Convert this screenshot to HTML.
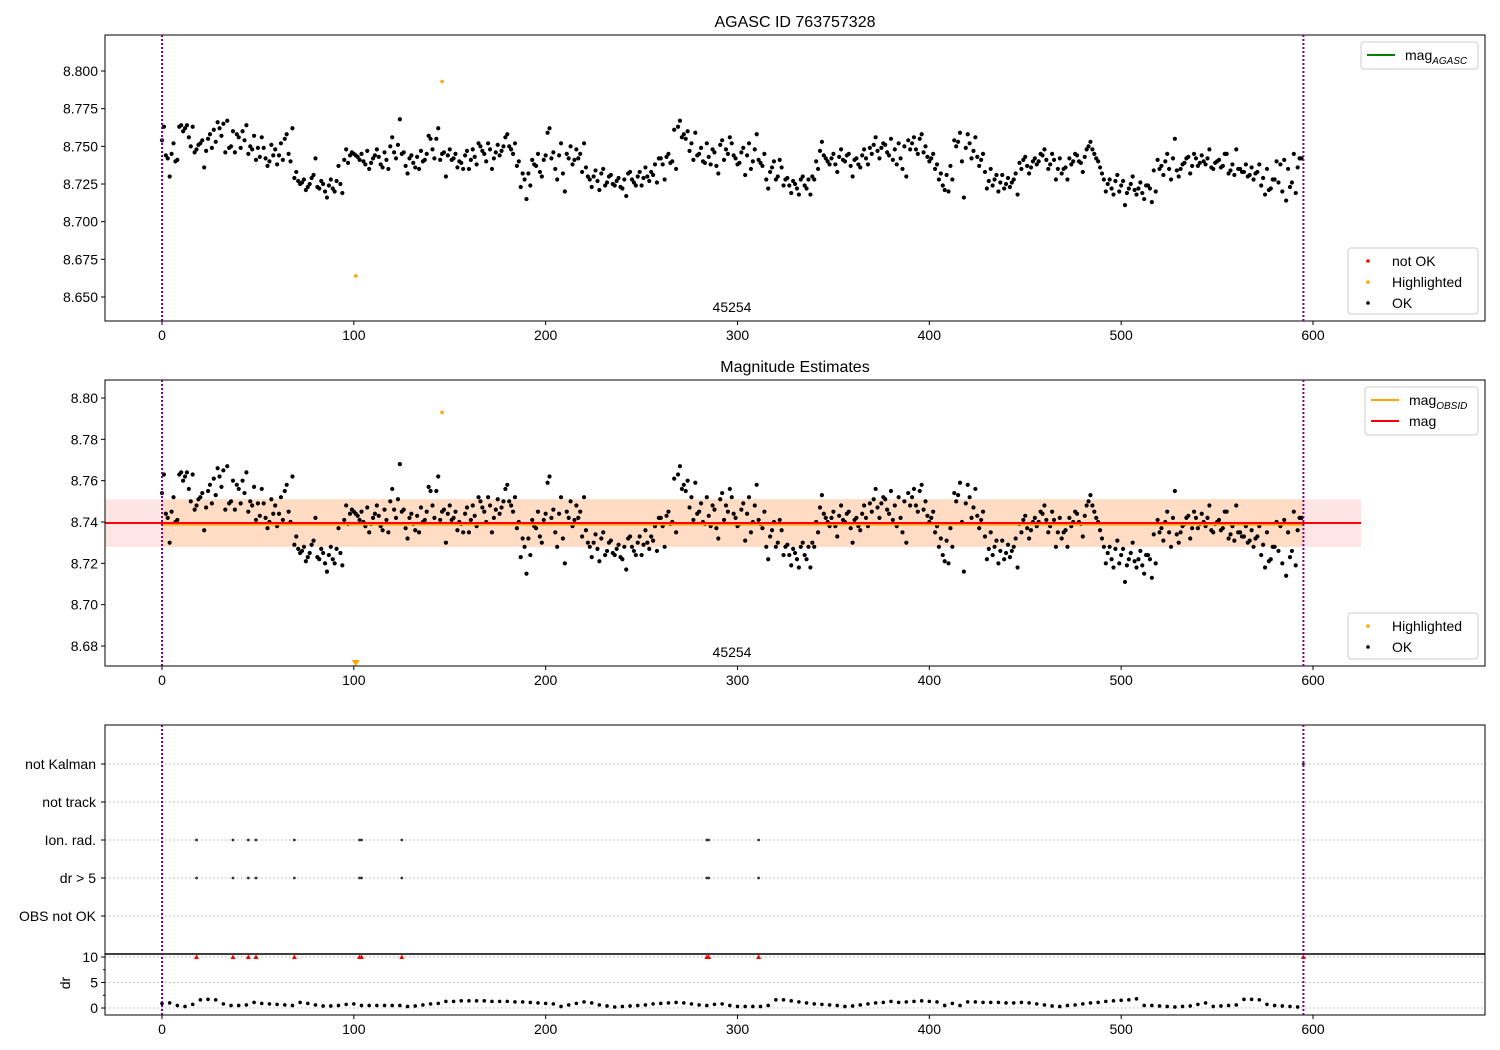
<!DOCTYPE html>
<html><head><meta charset="utf-8"><style>
body{margin:0;background:#fff}
svg{display:block;font-family:"Liberation Sans","DejaVu Sans",sans-serif}
</style></head><body>
<svg id="chart" width="1500" height="1050" viewBox="0 0 1500 1050" xmlns="http://www.w3.org/2000/svg"></svg>
<script>
// ---- data ----
const magIdx = [];
for (let i = 0; i <= 594; i += 2) magIdx.push(i);
const mags = [8.754,8.744,8.730,8.752,8.741, 8.764,8.762,8.756,8.763,8.748, 8.752,8.736,8.755,8.749,8.753,
8.762,8.765,8.767,8.750,8.746, 8.756,8.760,8.764,8.750,8.757, 8.749,8.756,8.742,8.740,8.744,
8.738,8.752,8.755,8.745,8.762, 8.733,8.725,8.728,8.723,8.729, 8.742,8.722,8.725,8.716,8.728,
8.720,8.737,8.719,8.748,8.744, 8.745,8.743,8.745,8.738,8.735, 8.742,8.748,8.738,8.746,8.735,
8.756,8.742,8.768,8.746,8.732, 8.744,8.736,8.735,8.740,8.745, 8.755,8.742,8.762,8.745,8.730,
8.748,8.742,8.736,8.739,8.744, 8.735,8.748,8.738,8.750,8.745, 8.752,8.735,8.746,8.744,8.750,
8.758,8.748,8.752,8.740,8.732, 8.715,8.724,8.738,8.745,8.730, 8.744,8.762,8.746,8.728,8.752,
8.720,8.742,8.738,8.748,8.745, 8.752,8.730,8.723,8.734,8.721, 8.735,8.726,8.731,8.724,8.729,
8.722,8.717,8.733,8.726,8.730, 8.724,8.736,8.727,8.731,8.726, 8.742,8.728,8.745,8.740,8.735,
8.767,8.758,8.760,8.752,8.759, 8.745,8.740,8.752,8.738,8.746, 8.732,8.754,8.748,8.756,8.744,
8.738,8.746,8.731,8.752,8.740, 8.758,8.739,8.745,8.722,8.736, 8.728,8.741,8.724,8.729,8.719,
8.725,8.718,8.730,8.722,8.718, 8.728,8.735,8.753,8.742,8.738, 8.745,8.733,8.748,8.740,8.745,
8.730,8.742,8.736,8.748,8.738, 8.745,8.756,8.742,8.752,8.746, 8.755,8.748,8.752,8.735,8.730,
8.748,8.756,8.745,8.758,8.750, 8.740,8.745,8.738,8.732,8.721, 8.720,8.728,8.750,8.759,8.716,
8.758,8.742,8.756,8.737,8.745, 8.722,8.735,8.728,8.720,8.731, 8.725,8.723,8.728,8.718,8.735,
8.743,8.732,8.740,8.738,8.745, 8.748,8.735,8.745,8.728,8.742, 8.735,8.728,8.738,8.745,8.740,
8.733,8.748,8.753,8.745,8.740, 8.732,8.720,8.728,8.718,8.731, 8.724,8.711,8.722,8.730,8.718,
8.726,8.715,8.724,8.713,8.720, 8.735,8.731,8.745,8.728,8.755, 8.730,8.738,8.742,8.732,8.745,
8.737,8.744,8.738,8.748,8.735, 8.740,8.736,8.745,8.732,8.738, 8.748,8.735,8.733,8.730,8.736,
8.732,8.738,8.729,8.735,8.722, 8.728,8.726,8.720,8.714,8.723, 8.745,8.736,8.742];
const magsB = [8.763,8.742,8.745,8.740,8.763, 8.760,8.764,8.750,8.746,8.751, 8.754,8.747,8.758,8.761,8.766,
8.757,8.746,8.749,8.760,8.758, 8.749,8.754,8.745,8.748,8.741, 8.743,8.749,8.737,8.751,8.748,
8.744,8.741,8.758,8.740,8.729, 8.727,8.726,8.721,8.725,8.731, 8.723,8.727,8.720,8.724,8.722,
8.727,8.725,8.741,8.739,8.746, 8.744,8.741,8.740,8.747,8.739, 8.744,8.743,8.736,8.741,8.750,
8.746,8.751,8.745,8.737,8.742, 8.739,8.743,8.747,8.741,8.757, 8.748,8.755,8.741,8.746,8.744,
8.741,8.745,8.740,8.735,8.747, 8.741,8.743,8.752,8.747,8.740, 8.748,8.742,8.751,8.747,8.756,
8.750,8.745,8.737,8.723,8.728, 8.732,8.741,8.737,8.733,8.741, 8.759,8.742,8.735,8.744,8.732,
8.745,8.750,8.741,8.742,8.733, 8.736,8.728,8.730,8.727,8.732, 8.724,8.730,8.725,8.727,8.723,
8.728,8.732,8.728,8.724,8.733, 8.729,8.730,8.733,8.738,8.742, 8.738,8.743,8.739,8.761,8.763,
8.756,8.755,8.747,8.741,8.744, 8.749,8.739,8.743,8.748,8.737, 8.751,8.741,8.745,8.752,8.742,
8.739,8.749,8.744,8.735,8.748, 8.741,8.737,8.728,8.733,8.740, 8.730,8.736,8.728,8.724,8.727,
8.722,8.728,8.724,8.728,8.730, 8.740,8.747,8.744,8.740,8.742, 8.738,8.743,8.741,8.744,8.737,
8.741,8.738,8.744,8.742,8.749, 8.751,8.747,8.749,8.751,8.744, 8.741,8.738,8.742,8.750,8.754,
8.752,8.748,8.755,8.746,8.743, 8.742,8.735,8.728,8.724,8.731, 8.737,8.754,8.753,8.740,8.749,
8.752,8.747,8.743,8.741,8.733, 8.727,8.724,8.731,8.726,8.722, 8.729,8.726,8.732,8.739,8.741,
8.737,8.736,8.742,8.740,8.744, 8.741,8.738,8.741,8.735,8.732, 8.736,8.742,8.740,8.744,8.739,
8.743,8.750,8.748,8.742,8.736, 8.728,8.725,8.722,8.727,8.720, 8.727,8.719,8.725,8.721,8.722,
8.719,8.724,8.722,8.734,8.741, 8.737,8.740,8.735,8.742,8.734, 8.735,8.739,8.743,8.737,8.742,
8.739,8.740,8.742,8.736,8.739, 8.741,8.737,8.745,8.734,8.731, 8.735,8.733,8.738,8.731,8.728,
8.733,8.724,8.718,8.721,8.728, 8.740,8.738,8.741,8.735,8.726, 8.719,8.742];
const magIdxB = [];
for (let i = 1; i <= 593 && magIdxB.length < magsB.length; i += 2) magIdxB.push(i);
const hlIdx = [101, 146];
const hlMags = [8.664, 8.793];
const drIdx = [];
for (let i = 0; i <= 592; i += 4) drIdx.push(i);
const drVals = [0.9,1.0,0.5,0.3,0.7,1.6,1.7,1.6,0.8,0.5,0.5,0.6,1.1,0.9,0.8,0.7,0.6,0.5,1.1,0.9,
0.6,0.4,0.4,0.5,0.7,0.8,0.5,0.5,0.5,0.5,0.5,0.5,0.3,0.4,0.6,0.8,0.9,1.3,1.3,1.4,
1.4,1.4,1.4,1.3,1.3,1.3,1.2,1.2,1.1,1.0,0.9,0.8,0.3,0.6,0.9,1.2,1.0,0.6,0.4,0.2,
0.3,0.4,0.5,0.6,0.8,0.9,1.0,1.1,1.0,0.8,0.6,0.5,0.7,0.8,0.5,0.3,0.3,0.3,0.3,0.5,
1.6,1.6,1.4,1.2,1.0,0.8,0.7,0.6,0.5,0.3,0.4,0.6,0.8,1.0,1.1,1.3,1.1,1.2,1.3,1.4,
1.3,1.2,0.5,0.9,0.5,1.2,1.2,1.1,1.1,1.1,1.0,1.0,1.1,1.0,0.8,0.6,0.4,0.3,0.5,0.6,
0.8,1.0,1.1,1.3,1.4,1.5,1.6,1.8,0.5,0.5,0.4,0.3,0.2,0.3,0.4,0.7,1.0,0.3,0.4,0.5,
0.6,1.7,1.7,1.6,0.7,0.5,0.4,0.3,0.2];
const flagIdx = [18,37,45,49,69,103,104,125,284,285,311];
const flagCats = ["not Kalman","not track","Ion. rad.","dr > 5","OBS not OK"];
const xTicks = [0,100,200,300,400,500,600];
const y1Ticks = [8.650,8.675,8.700,8.725,8.750,8.775,8.800];
const y2Ticks = [8.68,8.70,8.72,8.74,8.76,8.78,8.80];
const drTicks = [0,5,10];
const magMean = 8.7395, bandLo = 8.728, bandHi = 8.751;
const obsStart = 0, obsEnd = 595;

// ---- scales ----
const X0 = 105, X1 = 1485;
const xs = v => 162 + (v) * 1151/600;
const y1 = v => 71 + (8.800 - v) * 1506.7;
const y2 = v => 398 + (8.80 - v) * 2066.7;
const yd = v => 1008 - v * 5.1;
const catY = [764,802,840,878,916];

const svg = document.getElementById('chart');
const NS = 'http://www.w3.org/2000/svg';
function mk(tag, attrs, parent){ const e=document.createElementNS(NS,tag); for(const k in attrs) e.setAttribute(k,attrs[k]); (parent||svg).appendChild(e); return e; }
function txt(s, x, y, attrs, parent){ const e=mk('text',Object.assign({x:x,y:y,'font-size':14,fill:'#000'},attrs),parent); e.textContent=s; return e; }

function frame(top,bot,name){
  const r = mk('rect',{x:X0,y:top,width:X1-X0,height:bot-top,fill:'none',stroke:'#000','stroke-width':1});
  
  
}
function xAxis(bot,name){
  const g = mk('g',{});
  
  
  xTicks.forEach(t=>{ const x=xs(t); mk('line',{x1:x,x2:x,y1:bot,y2:bot+4,stroke:'#000'},g); txt(String(t),x,bot+19,{'text-anchor':'middle'},g); });
}
function yAxis(ticks, f, fmt, name){
  const g = mk('g',{});
  
  
  ticks.forEach(t=>{ const y=f(t); mk('line',{x1:X0-4,x2:X0,y1:y,y2:y,stroke:'#000'},g); txt(t.toFixed(fmt),X0-7,y+5,{'text-anchor':'end'},g); });
}
function dots(idx, vals, f, parent){
  idx.forEach((i,k)=>{ if (vals[k] === undefined) return;
    const c=mk('circle',{cx:xs(i),cy:f(vals[k]),r:2.1,fill:'#000'},parent);
      });
}

// ===== Panel 1 =====
const p1 = mk('g',{});


dots(magIdx, mags, y1, p1);
dots(magIdxB, magsB, y1, p1);
hlIdx.forEach((i,k)=>{ const c=mk('circle',{cx:xs(i),cy:y1(hlMags[k]),r:1.8,fill:'orange'},p1);
    });
frame(35,321,'agasc-axes-frame');
xAxis(321,'agasc-x-axis');
yAxis(y1Ticks,y1,3,'agasc-y-axis');
const t1 = txt('AGASC ID 763757328',795,27,{'text-anchor':'middle','font-size':16});
 
const o1 = txt('45254',732,312,{'text-anchor':'middle'});
 

// ===== Panel 2 =====
const p2 = mk('g',{});


const bandP = mk('rect',{x:X0,y:y2(bandHi),width:xs(625)-X0,height:y2(bandLo)-y2(bandHi),fill:'rgba(255,0,0,0.1)'},p2);
 
const bandO = mk('rect',{x:xs(obsStart),y:y2(bandHi),width:xs(obsEnd)-xs(obsStart),height:y2(bandLo)-y2(bandHi),fill:'rgba(255,165,0,0.15)'},p2);
 
dots(magIdx, mags, y2, p2);
dots(magIdxB, magsB, y2, p2);
const lo = mk('line',{x1:xs(obsStart),x2:xs(obsEnd),y1:y2(magMean)+1.5,y2:y2(magMean)+1.5,stroke:'orange','stroke-width':2},p2);
 
const lr = mk('line',{x1:X0,x2:xs(625),y1:y2(magMean),y2:y2(magMean),stroke:'red','stroke-width':2},p2);
 
{ const x=xs(hlIdx[0]); const tr=mk('polygon',{points:`${x-4},660 ${x+4},660 ${x},666`,fill:'orange'},p2);
   
  const c=mk('circle',{cx:xs(hlIdx[1]),cy:y2(hlMags[1]),r:1.8,fill:'orange'},p2);
    }
frame(380,666,'magnitude-axes-frame');
xAxis(666,'magnitude-x-axis');
yAxis(y2Ticks,y2,2,'magnitude-y-axis');
const t2 = txt('Magnitude Estimates',795,372,{'text-anchor':'middle','font-size':16});
 
const o2 = txt('45254',732,657,{'text-anchor':'middle'});
 

// ===== Panel 3 flags =====
const p3 = mk('g',{});


flagCats.forEach((c,k)=>{ const y=catY[k];
  mk('line',{x1:X0,x2:X1,y1:y,y2:y,stroke:'#b0b0b0','stroke-dasharray':'1.5,2.5'},p3);
  mk('line',{x1:X0-4,x2:X0,y1:y,y2:y,stroke:'#000'},p3);
  const l=txt(c,X0-9,y+5,{'text-anchor':'end'},p3);
    });
flagIdx.forEach(i=>{ [2,3].forEach(k=>{ const c=mk('circle',{cx:xs(i),cy:catY[k],r:1.4,fill:'#333'},p3);
    }); });
{ const c=mk('circle',{cx:xs(obsEnd),cy:catY[0],r:1.4,fill:'#333'},p3);
    }
frame(725,954,'flags-axes-frame');

// ===== Panel 4 dr =====
const p4 = mk('g',{});


drTicks.forEach(t=>{ mk('line',{x1:X0,x2:X1,y1:yd(t),y2:yd(t),stroke:'#b0b0b0','stroke-dasharray':'1.5,2.5'},p4); });
drIdx.forEach((i,k)=>{ const c=mk('circle',{cx:xs(i),cy:yd(drVals[k]),r:1.8,fill:'#000'},p4);
    });
flagIdx.concat([obsEnd]).forEach(i=>{ const x=xs(i),y=yd(10);
  const tr=mk('polygon',{points:`${x-2.5},${y+2} ${x+2.5},${y+2} ${x},${y-2.5}`,fill:'red'},p4);
    });
frame(954,1015,'dr-axes-frame');
mk('line',{x1:X0,x2:X1,y1:954,y2:954,stroke:'#000','stroke-width':1.5});
xAxis(1015,'dr-x-axis');
yAxis(drTicks,yd,0,'dr-y-axis');
[2.5,7.5].forEach(t=>mk('line',{x1:X0-2,x2:X0,y1:yd(t),y2:yd(t),stroke:'#000'}));
const dl = txt('dr',70,983,{'text-anchor':'middle',transform:'rotate(-90 70 983)'});
 

// ===== OBS boundary lines =====
[obsStart,obsEnd].forEach(v=>{ [[35,321],[380,666],[725,1015]].forEach(([a,b])=>{
  const l=mk('line',{x1:xs(v),x2:xs(v),y1:a,y2:b,stroke:'purple','stroke-width':2,'stroke-dasharray':'2,2'});
    }); });

// ===== Legends =====
function legend(x,y,w,h,items,name){
  const g=mk('g',{});
  
  
  mk('rect',{x:x,y:y,width:w,height:h,rx:3,fill:'rgba(255,255,255,0.9)',stroke:'#ccc'},g);
  items.forEach((it,k)=>{ const cy=y+13+k*21;
    if(it.type==='line') mk('line',{x1:x+6,x2:x+34,y1:cy,y2:cy,stroke:it.c,'stroke-width':2},g);
    else mk('circle',{cx:x+20,cy:cy,r:1.8,fill:it.c},g);
    const t=txt('',x+44,cy+5,{},g); t.innerHTML=it.label; });
}
legend(1361,42,117,27,[{type:'line',c:'green',label:'mag<tspan font-size="10" font-style="italic" dy="4">AGASC</tspan>'}],'agasc-legend');
legend(1348,248,130,66,[{type:'dot',c:'red',label:'not OK'},{type:'dot',c:'orange',label:'Highlighted'},{type:'dot',c:'#000',label:'OK'}],'status-legend');
legend(1365,387,113,48,[{type:'line',c:'orange',label:'mag<tspan font-size="10" font-style="italic" dy="4">OBSID</tspan>'},{type:'line',c:'red',label:'mag'}],'magnitude-legend');
legend(1348,613,130,46,[{type:'dot',c:'orange',label:'Highlighted'},{type:'dot',c:'#000',label:'OK'}],'status-legend-2');
</script>
</body></html>
